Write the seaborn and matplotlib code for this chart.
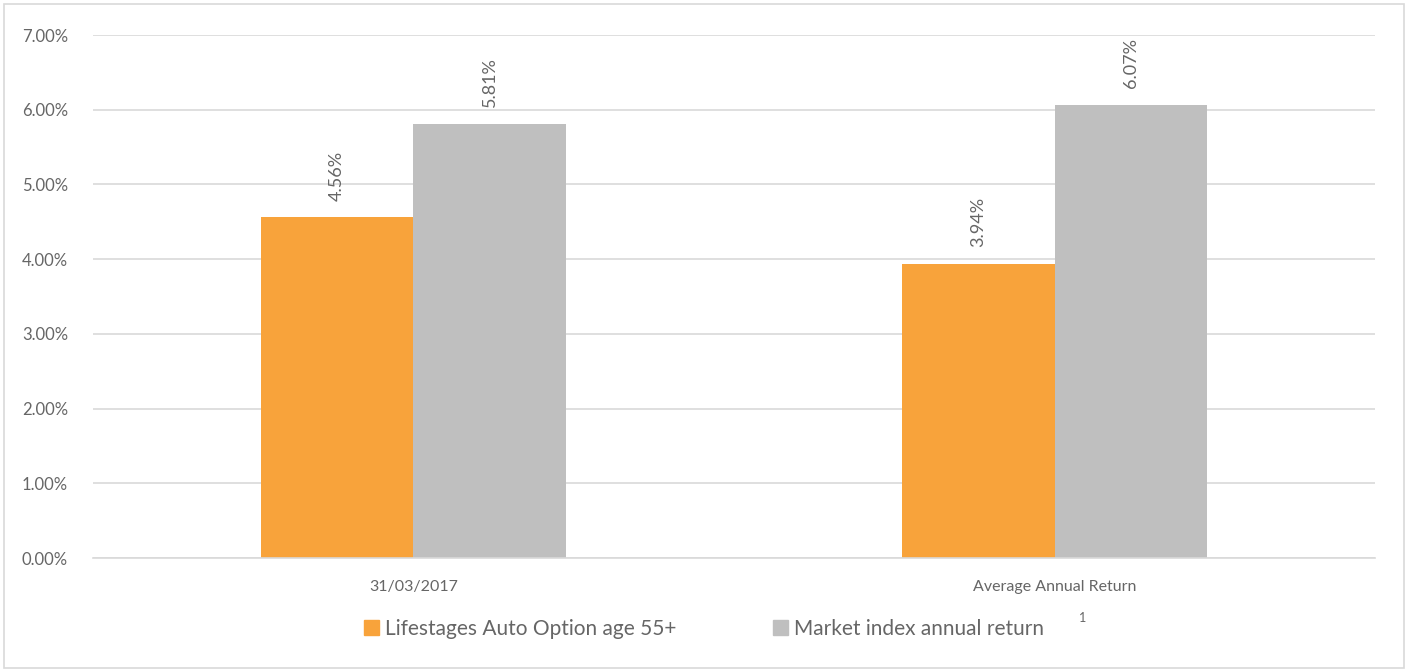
import pandas as pd
import matplotlib.pyplot as plt
import seaborn as sns
from matplotlib.patches import Rectangle

# Chart data
categories = ["31/03/2017", "Average Annual Return"]
series_names = ["Lifestages Auto Option age 55+", "Market index annual return"]
lifestages = [0.0456, 0.0394]
market = [0.0581, 0.0607]
colors = ["#F8A33B", "#BFBFBF"]

df = pd.DataFrame({
    "category": categories * 2,
    "series": [series_names[0]] * 2 + [series_names[1]] * 2,
    "value": lifestages + market,
})

sns.set_style("white")
plt.rcParams['font.family'] = ['Lato', 'DejaVu Sans']
text_col = "#666666"

fig = plt.figure(figsize=(14.08, 6.71), dpi=100)
ax = fig.add_axes([0.066, 0.1684, 0.9106, 0.7794])

sns.barplot(data=df, x="category", y="value", hue="series", palette=colors,
            width=0.477, ax=ax, legend=False, saturation=1, linewidth=0)

# value labels, rotated like the original
for cont in ax.containers:
    ax.bar_label(cont, labels=[f"{v*100:.2f}%" for v in cont.datavalues],
                 rotation=90, padding=12, color=text_col, fontsize=13)

ax.set_ylim(0, 0.07)
ax.set_xlim(-0.5, 1.5)
ax.set_yticks([i / 100 for i in range(8)])
ax.set_yticklabels([f"{i}.00%" for i in range(8)], color=text_col, fontsize=12)
ax.yaxis.grid(True, color="#D9D9D9", linewidth=1.2)
ax.set_axisbelow(True)
ax.set_xlabel("")
ax.set_ylabel("")
ax.tick_params(axis="y", length=0, pad=18)
ax.tick_params(axis="x", which="major", length=0, pad=16, labelsize=11.5, labelcolor=text_col)
ax.set_xticks([-0.5, 0.5, 1.5], minor=True)
ax.tick_params(axis="x", which="minor", length=6, color="#D9D9D9", width=1.2)
for s in ["top", "right", "left"]:
    ax.spines[s].set_visible(False)
ax.spines["bottom"].set_color("#D9D9D9")
ax.spines["bottom"].set_linewidth(1.2)

# legend
handles = [Rectangle((0, 0), 1, 1, color=c) for c in colors]
fig.legend(handles, series_names, loc="center", bbox_to_anchor=(0.5, 0.0625),
           ncol=2, frameon=False, fontsize=15, labelcolor=text_col,
           handlelength=0.75, handleheight=0.75, handletextpad=0.3, columnspacing=4.6)
fig.text(0.766, 0.073, "1", fontsize=9, color=text_col)

# outer border
fig.patches.append(Rectangle((0.003, 0.004), 0.994, 0.99, transform=fig.transFigure,
                             fill=False, edgecolor="#D9D9D9", linewidth=1.2))

fig.savefig("out.png", dpi=100)
